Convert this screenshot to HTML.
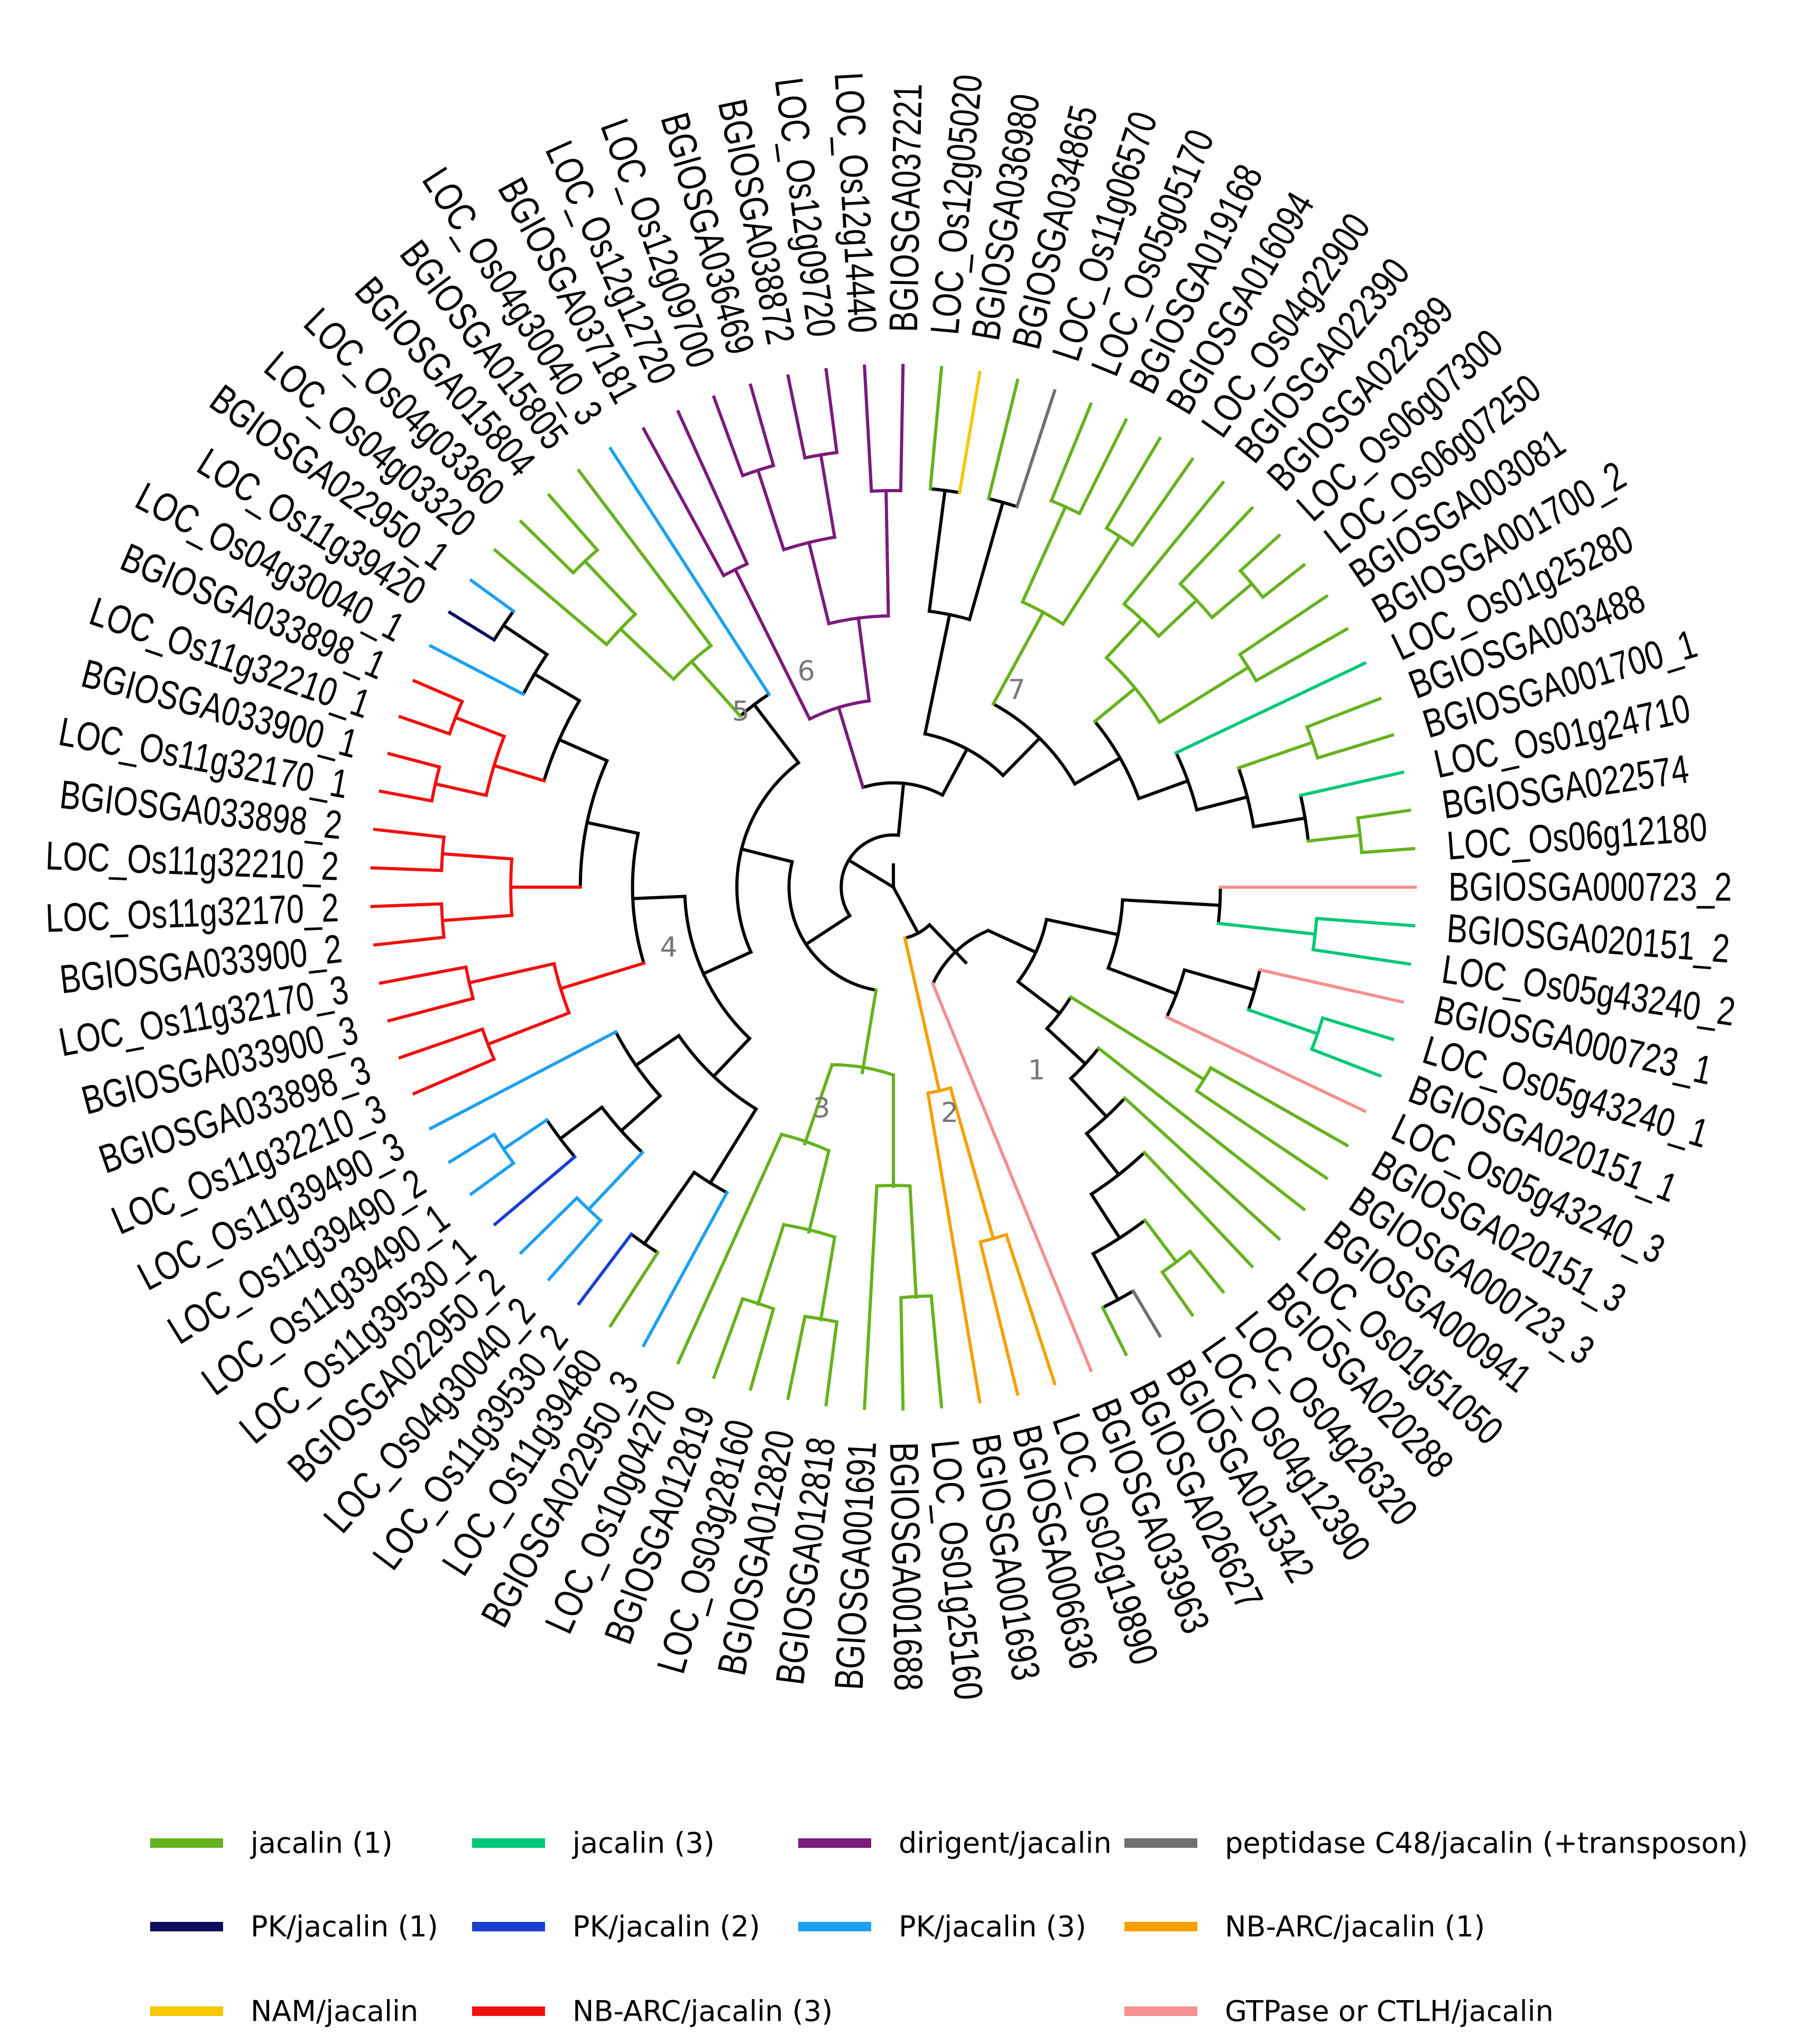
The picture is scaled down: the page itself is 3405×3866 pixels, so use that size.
<!DOCTYPE html>
<html><head><meta charset="utf-8">
<style>
html,body{margin:0;padding:0;background:#fff;}
svg{display:block;}
</style></head>
<body>
<svg id="chart" width="3405" height="3866" viewBox="0 0 3405 3866" xmlns="http://www.w3.org/2000/svg">
<g id="tree"></g>
<g id="labels" font-family="Liberation Sans, Arial, sans-serif" font-size="58" fill="#000"></g>
<g id="clades" font-family="DejaVu Sans, sans-serif" font-size="52" fill="#777"></g>
<g id="legend" font-family="DejaVu Sans, Verdana, sans-serif" font-size="54" fill="#000"></g>
</svg>
<script>
const leafNames = ["BGIOSGA000723_2","BGIOSGA020151_2","LOC_Os05g43240_2","BGIOSGA000723_1","LOC_Os05g43240_1","BGIOSGA020151_1","LOC_Os05g43240_3","BGIOSGA020151_3","BGIOSGA000723_3","BGIOSGA000941","LOC_Os01g51050","BGIOSGA020288","LOC_Os04g26320","LOC_Os04g12390","BGIOSGA015342","BGIOSGA026627","BGIOSGA033963","LOC_Os02g19890","BGIOSGA006636","BGIOSGA001693","LOC_Os01g25160","BGIOSGA001688","BGIOSGA001691","BGIOSGA012818","BGIOSGA012820","LOC_Os03g28160","BGIOSGA012819","LOC_Os10g04270","BGIOSGA022950_3","LOC_Os11g39480","LOC_Os11g39530_2","LOC_Os04g30040_2","BGIOSGA022950_2","LOC_Os11g39530_1","LOC_Os11g39490_1","LOC_Os11g39490_2","LOC_Os11g39490_3","LOC_Os11g32210_3","BGIOSGA033898_3","BGIOSGA033900_3","LOC_Os11g32170_3","BGIOSGA033900_2","LOC_Os11g32170_2","LOC_Os11g32210_2","BGIOSGA033898_2","LOC_Os11g32170_1","BGIOSGA033900_1","LOC_Os11g32210_1","BGIOSGA033898_1","LOC_Os04g30040_1","LOC_Os11g39420","BGIOSGA022950_1","LOC_Os04g03320","LOC_Os04g03360","BGIOSGA015804","BGIOSGA015805","LOC_Os04g30040_3","BGIOSGA037181","LOC_Os12g12720","LOC_Os12g09700","BGIOSGA036469","BGIOSGA038872","LOC_Os12g09720","LOC_Os12g14440","BGIOSGA037221","LOC_Os12g05020","BGIOSGA036980","BGIOSGA034865","LOC_Os11g06570","LOC_Os05g05170","BGIOSGA019168","BGIOSGA016094","LOC_Os04g22900","BGIOSGA022390","BGIOSGA022389","LOC_Os06g07300","LOC_Os06g07250","BGIOSGA003081","BGIOSGA001700_2","LOC_Os01g25280","BGIOSGA003488","BGIOSGA001700_1","LOC_Os01g24710","BGIOSGA022574","LOC_Os06g12180"];
const leafGroups = ["pk","t","t","pk","t","t","pk","g","g","g","g","g","g","g","gr","g","pk","o","o","o","g","g","g","g","g","g","g","g","b3","g","b2","b3","b3","b2","b3","b3","b3","r","r","r","r","r","r","r","r","r","r","r","r","b3","n","b3","g","g","g","g","b3","p","p","p","p","p","p","p","p","g","y","g","gr","g","g","g","g","g","g","g","g","g","g","t","g","g","t","g","g"];
const groupColors = {g:"#66b21e",t:"#00c878",p:"#7b1a7b",gr:"#707070",n:"#0c0c5c",b2:"#1a3fd0",b3:"#1ea0f0",o:"#f5a000",y:"#f5c800",r:"#f01010",pk:"#f59090"};
const clade1 = [17,[[[1,[2,3]],[[4,[5,6]],7]],[[8,9],[10,[11,[12,[[13,14],[15,16]]]]]]]];
const clade2 = [[18,19],20];
const clade3 = [[28,[[27,26],[25,24]]],[23,[22,21]]];
const clade4 = [[[29,[30,31]],[[[32,33],[34,[35,36]]],37]],[[[38,39],[40,41]],[[[42,43],[44,45]],[[[46,47],[48,49]],[50,[51,52]]]]]];
const clade5 = [[[53,[54,55]],56],57];
const clade6 = [[58,59],[[[60,61],[62,63]],[64,65]]];
const clade7 = [[[66,67],[68,69]],[[[70,71],[72,73]],[[[74,[75,[76,77]]],[78,79]],[80,[[81,82],[83,[84,85]]]]]]];
const treeRoot = [[clade1,clade2],[[clade3,[clade4,clade5]],[clade6,clade7]]];
const cladeNums = ["1","2","3","4","5","6","7"];
const cladeAngles = [52,76,108,165,229,248,302];
const legendItems = [["jacalin (1)","g"],["jacalin (3)","t"],["dirigent/jacalin","p"],["peptidase C48/jacalin (+transposon)","gr"],["PK/jacalin (1)","n"],["PK/jacalin (2)","b2"],["PK/jacalin (3)","b3"],["NB-ARC/jacalin (1)","o"],["NAM/jacalin","y"],["NB-ARC/jacalin (3)","r"],["","none"],["GTPase or CTLH/jacalin","pk"]];

const NS="http://www.w3.org/2000/svg";
const CX=1690, CY=1678, RTIP=987, RLAB=1050, N=leafNames.length;
const angOf = i => (i-1)*360/N;
const rad = a => a*Math.PI/180;
const px = (r,a)=>CX+r*Math.cos(rad(a)), py=(r,a)=>CY+r*Math.sin(rad(a));
const G=document.getElementById('tree');

function height(n){return typeof n==='number'?0:1+Math.max(...n.map(height));}
function grp(n){if(typeof n==='number')return leafGroups[n-1];const gs=n.map(grp);return gs.every(g=>g===gs[0])?gs[0]:null;}
function col(n){const g=grp(n);return g?groupColors[g]:"#000";}
function line(r1,r2,a,c,name){
  const l=document.createElementNS(NS,'line');
  l.setAttribute('x1',px(r1,a));l.setAttribute('y1',py(r1,a));
  l.setAttribute('x2',px(r2,a));l.setAttribute('y2',py(r2,a));
  l.setAttribute('stroke',c);l.setAttribute('stroke-width',6);l.setAttribute('stroke-linecap','square');
  
  
  G.appendChild(l);
}
function arc(r,a1,a2,c){
  if(r<=0)return;
  const p=document.createElementNS(NS,'path');
  const large=(a2-a1)>180?1:0;
  p.setAttribute('d',`M${px(r,a1)},${py(r,a1)} A${r},${r} 0 ${large} 1 ${px(r,a2)},${py(r,a2)}`);
  p.setAttribute('fill','none');p.setAttribute('stroke',c);p.setAttribute('stroke-width',6);
  
  
  G.appendChild(p);
}
function layout(n,r){
  if(typeof n==='number') return {a:angOf(n),r:RTIP};
  const sub=n.map(ch=>{
    const h=height(ch);
    const cr = typeof ch==='number'?RTIP: r+(RTIP-r)/(h+1);
    const L=layout(ch,cr);
    return {ch,a:L.a,r:cr};
  });
  const a1=sub[0].a,a2=sub[sub.length-1].a;
  arc(r,a1,a2,col(n));
  sub.forEach(s=>line(r,s.r,s.a,col(s.ch),typeof s.ch==='number'?'leaf-branch':'internal-branch'));
  return {a:(a1+a2)/2,r};
}
layout(treeRoot,0);
const stub=document.createElementNS(NS,'line');
stub.setAttribute('x1',CX);stub.setAttribute('y1',CY);stub.setAttribute('x2',CX);stub.setAttribute('y2',CY-45);
stub.setAttribute('stroke','#000');stub.setAttribute('stroke-width',6);


G.appendChild(stub);

const LG=document.getElementById('labels');
leafNames.forEach((nm,i)=>{
  const a=angOf(i+1);
  const t=document.createElementNS(NS,'text');
  const x=px(RLAB,a),y=py(RLAB,a);
  t.setAttribute('x',x);t.setAttribute('y',y);
  t.setAttribute('dominant-baseline','central');
  const left=a>90&&a<270;
  t.setAttribute('text-anchor',left?'end':'start');
  t.setAttribute('transform',`rotate(${left?a-180:a} ${x} ${y})`);
  t.textContent=nm;
  
  
  LG.appendChild(t);
  const w=t.getComputedTextLength();
  t.setAttribute('font-size','76');
  t.setAttribute('textLength',w*1.02);
  t.setAttribute('lengthAdjust','spacingAndGlyphs');
});
const CG=document.getElementById('clades');
cladeNums.forEach((c,i)=>{
  const t=document.createElementNS(NS,'text');
  const a=cladeAngles[i];
  t.setAttribute('x',px(440,a));t.setAttribute('y',py(440,a));
  t.setAttribute('text-anchor','middle');t.setAttribute('dominant-baseline','central');
  t.textContent=c;
  
  
  CG.appendChild(t);
});
const LEG=document.getElementById('legend');
const colX=[284,893,1510,2127], rowY=[3486,3644,3804];
legendItems.forEach((it,i)=>{
  if(it[1]==='none')return;
  const cx=colX[i%4], cy=rowY[Math.floor(i/4)];
  const r=document.createElementNS(NS,'rect');
  r.setAttribute('x',cx);r.setAttribute('y',cy-9);r.setAttribute('width',138);r.setAttribute('height',18);
  r.setAttribute('fill',groupColors[it[1]]);
  
  
  LEG.appendChild(r);
  const t=document.createElementNS(NS,'text');
  t.setAttribute('x',cx+190);t.setAttribute('y',cy);t.setAttribute('dominant-baseline','central');
  t.textContent=it[0];
  
  
  LEG.appendChild(t);
});
</script>
</body></html>
